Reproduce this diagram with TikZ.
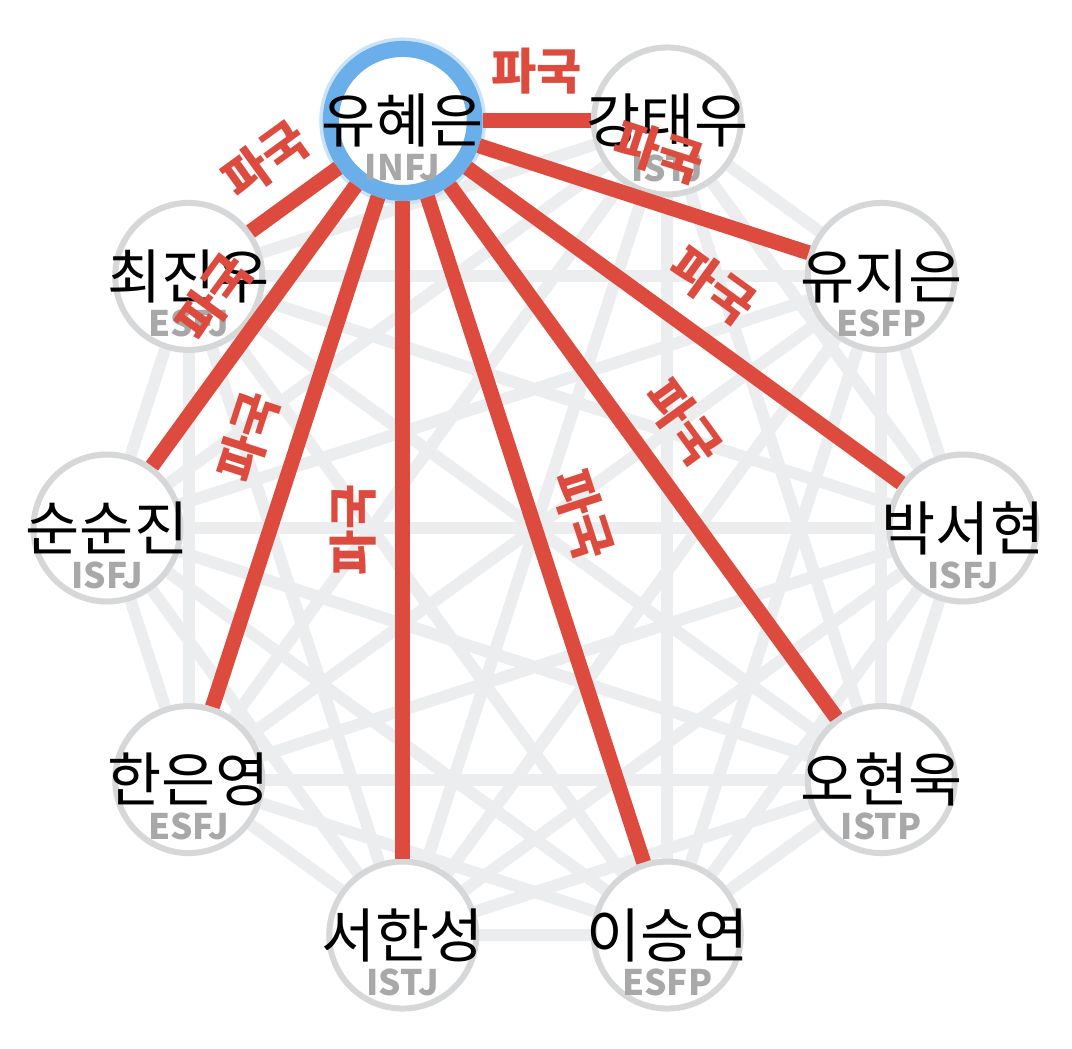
\documentclass[tikz,border=0pt]{standalone}
\usepackage{fontspec}
\usepackage{tikz}
\usetikzlibrary{backgrounds,calc}
\newfontfamily\kr{Noto Sans CJK KR}
\definecolor{cRing}{HTML}{D6D7D8}
\definecolor{cLink}{HTML}{ECEDEF}
\definecolor{cDoom}{HTML}{DD4B3E}
\definecolor{cSel}{HTML}{6AAEEA}
\definecolor{cKind}{HTML}{A8A8A8}
\tikzset{
  person/.style   = {circle, draw=cRing, fill=white, line width=0.12cm,
                     minimum size=2.94cm, inner sep=0pt},
  chosen/.style   = {person, draw=cSel, line width=0.32cm, minimum size=2.88cm,
                     preaction={draw=cSel!35, line width=0.46cm}},
  pname/.style    = {inner sep=0pt, font=\kr\fontsize{33.5}{33.5}\selectfont},
  pkind/.style    = {inner sep=0pt, text=cKind,
                     font=\kr\bfseries\fontsize{20}{20}\selectfont},
  link/.style     = {draw=cLink, line width=0.24cm},
  doom/.style     = {draw=cDoom, line width=0.30cm},
  doomtag/.style  = {inner sep=0pt, text=cDoom,
                     font=\kr\bfseries\fontsize{28}{28}\selectfont},
}
\begin{document}
\begin{tikzpicture}
  \useasboundingbox (0,0) rectangle (21.44,-20.98);
  \coordinate (mid) at (10.70,-10.56);
  % people round the ring
  \node[chosen] (p0) at ($(mid)+(108:8.56)$) {};
  \foreach \i/\ang in {1/72, 2/36, 3/0, 4/-36, 5/-72, 6/-108, 7/-144, 8/180, 9/144}
    \node[person] (p\i) at ($(mid)+(\ang:8.56)$) {};
  % every pair, faint
  \begin{scope}[on background layer]
    \fill[white] (0,0) rectangle (21.44,-20.98);
    \foreach \i in {0,...,8} {
      \pgfmathtruncatemacro\k{\i+1}
      \foreach \j in {\k,...,9}
        \draw[link] (p\i) -- (p\j);
    }
  \end{scope}
  % selected person's links
  \foreach \i in {1,...,9}
    \draw[doom] (p\i) -- (p0);
  % names and types
  \foreach \i/\name/\kind in {0/유혜은/INFJ, 1/강태우/ISTJ, 2/유지은/ESFP,
      3/박서현/ISFJ, 4/오현욱/ISTP, 5/이승연/ESFP, 6/서한성/ISTJ,
      7/한은영/ESFJ, 8/순순진/ISFJ, 9/최진우/ESFJ} {
    \node[pname] (n\i) at (p\i.center) {\name};
    \node[pkind] (t\i) at ([yshift=-0.94cm]p\i.center) {\kind};
  }
  % edge tags
  \foreach \i in {1,...,9}
    \path (p\i) -- (p0) node[doomtag, midway, sloped, above=0.52cm] (d\i) {파국};
\end{tikzpicture}
\end{document}
